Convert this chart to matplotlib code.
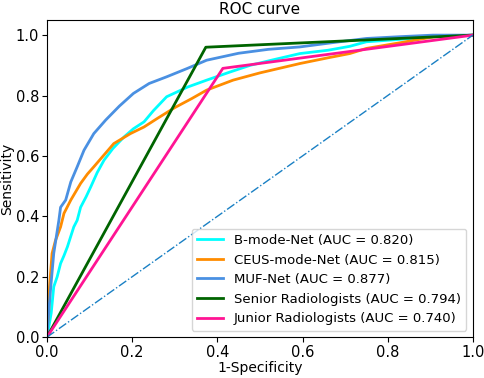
import matplotlib
matplotlib.use("Agg")
import matplotlib.pyplot as plt

# ROC points (1-specificity, sensitivity)
bmode_fpr = [0.0, 0.004, 0.01, 0.016, 0.024, 0.032, 0.04, 0.048, 0.063, 0.071, 0.079, 0.092,
             0.103, 0.118, 0.134, 0.155, 0.181, 0.203, 0.228, 0.25, 0.281, 0.33, 0.375, 0.43,
             0.477, 0.53, 0.594, 0.66, 0.711, 0.75, 0.82, 0.906, 1.0]
bmode_tpr = [0.0, 0.03, 0.08, 0.167, 0.2, 0.244, 0.27, 0.299, 0.365, 0.387, 0.43, 0.465,
             0.498, 0.545, 0.586, 0.625, 0.663, 0.69, 0.713, 0.75, 0.796, 0.828, 0.851, 0.878,
             0.9, 0.918, 0.939, 0.95, 0.963, 0.978, 0.985, 0.995, 1.0]

ceus_fpr = [0.0, 0.002, 0.004, 0.006, 0.012, 0.02, 0.032, 0.04, 0.056, 0.079, 0.095, 0.11,
            0.135, 0.157, 0.196, 0.228, 0.26, 0.3, 0.34, 0.375, 0.437, 0.5, 0.594, 0.66,
            0.711, 0.75, 0.83, 0.907, 1.0]
ceus_tpr = [0.0, 0.05, 0.08, 0.167, 0.277, 0.32, 0.365, 0.41, 0.454, 0.509, 0.54, 0.564,
            0.605, 0.641, 0.674, 0.696, 0.725, 0.76, 0.79, 0.818, 0.851, 0.875, 0.906, 0.925,
            0.939, 0.956, 0.975, 0.994, 1.0]

muf_fpr = [0.0, 0.004, 0.009, 0.016, 0.028, 0.032, 0.044, 0.056, 0.071, 0.087, 0.11, 0.138,
           0.17, 0.203, 0.24, 0.281, 0.33, 0.375, 0.45, 0.52, 0.594, 0.67, 0.75, 0.83, 0.906, 1.0]
muf_tpr = [0.0, 0.08, 0.167, 0.278, 0.387, 0.43, 0.454, 0.514, 0.564, 0.619, 0.674, 0.719,
           0.765, 0.807, 0.84, 0.862, 0.89, 0.917, 0.94, 0.953, 0.961, 0.975, 0.989, 0.995, 1.0, 1.0]

senior_fpr = [0.0, 0.373, 1.0]
senior_tpr = [0.0, 0.96, 1.0]

junior_fpr = [0.0, 0.413, 1.0]
junior_tpr = [0.0, 0.89, 1.0]

labels = ["B-mode-Net (AUC = 0.820)", "CEUS-mode-Net (AUC = 0.815)", "MUF-Net (AUC = 0.877)",
          "Senior Radiologists (AUC = 0.794)", "Junior Radiologists (AUC = 0.740)"]
colors = ["aqua", "darkorange", "#4a90e2", "darkgreen", "deeppink"]

fig = plt.figure(figsize=(4.84, 3.78), dpi=100)
ax = fig.add_axes([0.097, 0.108, 0.88, 0.839])

curves = [(bmode_fpr, bmode_tpr), (ceus_fpr, ceus_tpr), (muf_fpr, muf_tpr),
          (senior_fpr, senior_tpr), (junior_fpr, junior_tpr)]
for (x, y), lab, c in zip(curves, labels, colors):
    ax.plot(x, y, color=c, lw=2, label=lab)

ax.plot([0, 1], [0, 1], color="#1a80c4", lw=1, linestyle="-.")

ax.set_xlim(0, 1.0)
ax.set_ylim(0, 1.05)
ax.set_xlabel("1-Specificity", fontsize=10, labelpad=1)
ax.set_ylabel("Sensitivity", fontsize=10, labelpad=1)
ax.set_title("ROC curve", fontsize=11, pad=4)
ax.tick_params(labelsize=10.5, pad=2)
ax.legend(loc="lower right", fontsize=9.5)

fig.savefig("out.png", dpi=100)
